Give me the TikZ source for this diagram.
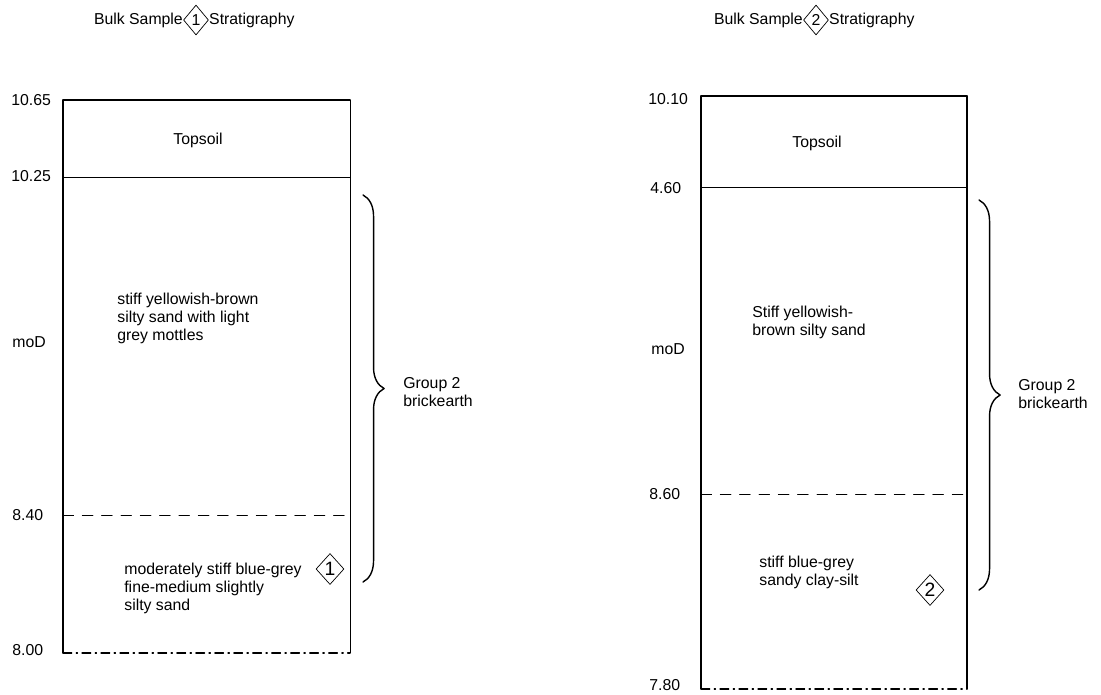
\documentclass[tikz,border=0pt]{standalone}
\usepackage{fontspec}
\setmainfont{Liberation Sans}
\usetikzlibrary{positioning,shapes.geometric,decorations.pathreplacing}

\tikzset{
  level/.style={anchor=west, inner sep=0pt},
  layer/.style={anchor=west, align=left, inner sep=0pt},
  sample/.style={diamond, draw, thin, inner sep=0pt, minimum width=0.5cm, minimum height=0.6cm},
  bigsample/.style={sample, minimum width=0.56cm, minimum height=0.62cm, font=\fontsize{11}{11}\selectfont},
  group/.style={decorate, decoration={brace, amplitude=12pt}, thick},
  bed/.style={line width=0.5pt},
  base/.style={line width=0.6pt, dash pattern=on 5pt off 2.5pt on 0.8pt off 2.5pt}
}

\begin{document}
\begin{tikzpicture}[x=0.02cm, y=-0.02cm, line cap=round, line join=round,
  font=\fontsize{9}{10.2}\selectfont]

\useasboundingbox (0,0) rectangle (1101,694);

% ---------- Bulk sample 1 ----------
% Title
\node[sample] (t1) at (196,20) {1};
\node[left=0pt of t1, inner sep=0pt] (t1a) {Bulk Sample};
\node[right=0pt of t1, inner sep=0pt] (t1b) {Stratigraphy};

% Column
\coordinate (a1) at (63,100);
\coordinate (b1) at (350,100);
\coordinate (c1) at (63,177);
\coordinate (d1) at (350,177);
\coordinate (e1) at (63,515);
\coordinate (f1) at (350,515);
\coordinate (g1) at (63,653);
\coordinate (h1) at (350,653);
\draw[line width=0.9pt] (a1) -- (b1);
\draw[bed] (c1) -- (d1);
\draw[bed, dash pattern=on 6pt off 5pt] (e1) -- (f1);
\draw[base] (g1) -- (h1);
\draw[line width=0.7pt] (a1) -- (g1);
\draw[bed] (b1) -- (h1);

% Levels
\node[level] (l11) at (11,100) {10.65};
\node[level] (l12) at (11,176) {10.25};
\node[level] (l13) at (12,342) {moD};
\node[level] (l14) at (12,515) {8.40};
\node[level] (l15) at (12,650) {8.00};

% Layers
\node (top1) at (198,140) {Topsoil};
\node[layer] (s11) at (117,318) {stiff yellowish-brown\\silty sand with light\\grey mottles};
\node[layer] (s12) at (124,588) {moderately stiff blue-grey\\fine-medium slightly\\silty sand};
\node[bigsample] (m1) at (330,569) {1};

% Group
\coordinate (u1) at (363,195);
\coordinate (v1) at (363,582);
\draw[group] (u1) -- (v1);
\node[layer] (g1t) at (403,392) {Group 2\\brickearth};

% ---------- Bulk sample 2 ----------
% Title
\node[sample] (t2) at (816,20) {2};
\node[left=0pt of t2, inner sep=0pt] (t2a) {Bulk Sample};
\node[right=0pt of t2, inner sep=0pt] (t2b) {Stratigraphy};

% Column
\coordinate (a2) at (701,96);
\coordinate (b2) at (967,96);
\coordinate (c2) at (701,187);
\coordinate (d2) at (967,187);
\coordinate (e2) at (701,494);
\coordinate (f2) at (967,494);
\coordinate (g2) at (701,689);
\coordinate (h2) at (967,689);
\draw[line width=0.9pt] (a2) -- (b2);
\draw[bed] (c2) -- (d2);
\draw[bed, dash pattern=on 6pt off 5pt] (e2) -- (f2);
\draw[base] (g2) -- (h2);
\draw[line width=0.7pt] (a2) -- (g2);
\draw[line width=0.7pt] (b2) -- (h2);

% Levels
\node[level] (l21) at (648,99) {10.10};
\node[level] (l22) at (650,188) {4.60};
\node[level] (l23) at (651,349) {moD};
\node[level] (l24) at (649,494) {8.60};
\node[level] (l25) at (649,685) {7.80};

% Layers
\node (top2) at (817,143) {Topsoil};
\node[layer] (s21) at (752,322) {Stiff yellowish-\\brown silty sand};
\node[layer] (s22) at (759,572) {stiff blue-grey\\sandy clay-silt};
\node[bigsample] (m2) at (930,590) {2};

% Group
\coordinate (u2) at (979,200);
\coordinate (v2) at (979,590);
\draw[group] (u2) -- (v2);
\node[layer] (g2t) at (1018,394) {Group 2\\brickearth};

\end{tikzpicture}
\end{document}
